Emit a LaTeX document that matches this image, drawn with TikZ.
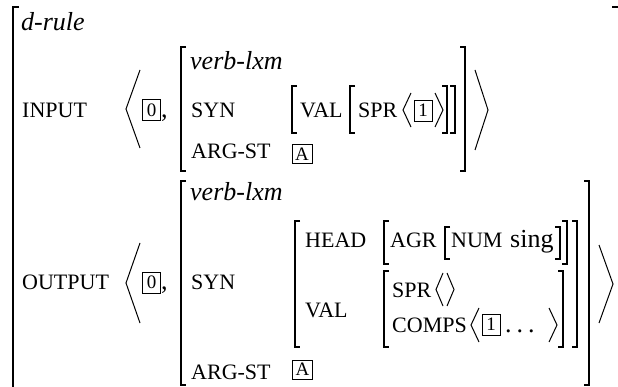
\documentclass[tikz,border=0pt]{standalone}
\usepackage{fontspec}
\setmainfont{Liberation Serif}
\newcommand\avmL[3]{\draw[brk] (#1+5,#2) -- (#1,#2) -- (#1,#3) -- (#1+5,#3);}
\newcommand\avmR[3]{\draw[brk] (#1-5,#2) -- (#1,#2) -- (#1,#3) -- (#1-5,#3);}
\newcommand\angL[4]{\draw[angl] (#2,#3) -- (#1,{(#3+#4)/2}) -- (#2,#4);}
\begin{document}
\begin{tikzpicture}[x=1pt,y=-1pt,
  feat/.style={anchor=base west, inner sep=0pt, font=\fontsize{22}{26}\selectfont},
  typ/.style={anchor=base west, inner sep=0pt, font=\fontsize{26}{30}\selectfont\itshape},
  atom/.style={anchor=base west, inner sep=0pt, font=\fontsize{26}{30}\selectfont},
  tagbox/.style={draw, line width=0.8pt, inner sep=0pt, minimum width=18pt, minimum height=21pt, font=\fontsize{19}{22}\selectfont},
  brk/.style={line width=1.3pt},
  bigbrk/.style={line width=1.5pt},
  angl/.style={line width=1pt}]
\useasboundingbox (0,0) rectangle (618,387);
\fill[white] (0,0) rectangle (618,387);
% outer matrix
\draw[bigbrk] (19,7) -- (13,7) -- (13,395);
\draw[bigbrk] (612,7) -- (619,7) -- (619,395);
\node[typ] (drule) at (21,31) {d-rule};
% ---------------- INPUT ----------------
\node[feat] (input) at (22,118) {INPUT};
\angL{126}{140}{70}{148}
\node[tagbox] (in0) at (151.5,110) {0};
\node[atom] (incomma) at (161,118) {,};
\avmL{181}{47}{171}
\avmR{465}{47}{171}
\node[typ] (inverb) at (190,70) {verb-lxm};
\node[feat] (insyn) at (191,118) {SYN};
\avmL{292}{86}{133}
\avmR{455}{86}{133}
\node[feat] (inval) at (300,118) {VAL};
\avmL{350}{86}{133}
\avmR{447}{86}{133}
\node[feat] (inspr) at (358,118) {SPR};
\angL{403}{411}{93}{127}
\node[tagbox] (in1) at (423,110.5) {1};
\angL{443}{435}{93}{127}
\node[feat] (inarg) at (191,159) {ARG-ST};
\node[tagbox, minimum width=20pt, minimum height=19pt] (inA) at (302,154) {A};
\angL{488}{475}{70}{150}
% ---------------- OUTPUT ----------------
\node[feat] (output) at (22,290) {OUTPUT};
\angL{126}{140}{243}{323}
\node[tagbox] (out0) at (151.5,282.5) {0};
\node[atom] (outcomma) at (161,290) {,};
\avmL{181}{181}{385}
\avmR{589}{181}{385}
\node[typ] (outverb) at (190,201) {verb-lxm};
\node[feat] (outsyn) at (191,290) {SYN};
\avmL{295}{221}{347}
\avmR{577}{221}{347}
\node[feat] (head) at (305,248) {HEAD};
\avmL{384}{221}{264}
\avmR{567}{221}{264}
\node[feat] (agr) at (390,248) {AGR};
\avmL{445}{227}{259}
\avmR{560}{227}{259}
\node[feat] (num) at (451,248) {NUM};
\node[atom] (sing) at (510,248) {sing};
\node[feat] (outval) at (305,317) {VAL};
\avmL{384}{271}{347}
\avmR{563}{271}{347}
\node[feat] (outspr) at (392,297) {SPR};
\angL{436}{443}{273}{306}
\angL{454}{447}{273}{306}
\node[feat] (comps) at (392,332) {COMPS};
\angL{471}{479}{308}{342}
\node[tagbox] (out1) at (491,324.5) {1};
\node[atom] (dots) at (505,332) {.\hspace{5pt}.\hspace{5pt}.};
\angL{557}{549}{308}{342}
\node[feat] (outarg) at (191,379) {ARG-ST};
\node[tagbox, minimum width=20pt, minimum height=19pt] (outA) at (302.5,369.5) {A};
\angL{613}{599}{245}{323}
\end{tikzpicture}
\end{document}
